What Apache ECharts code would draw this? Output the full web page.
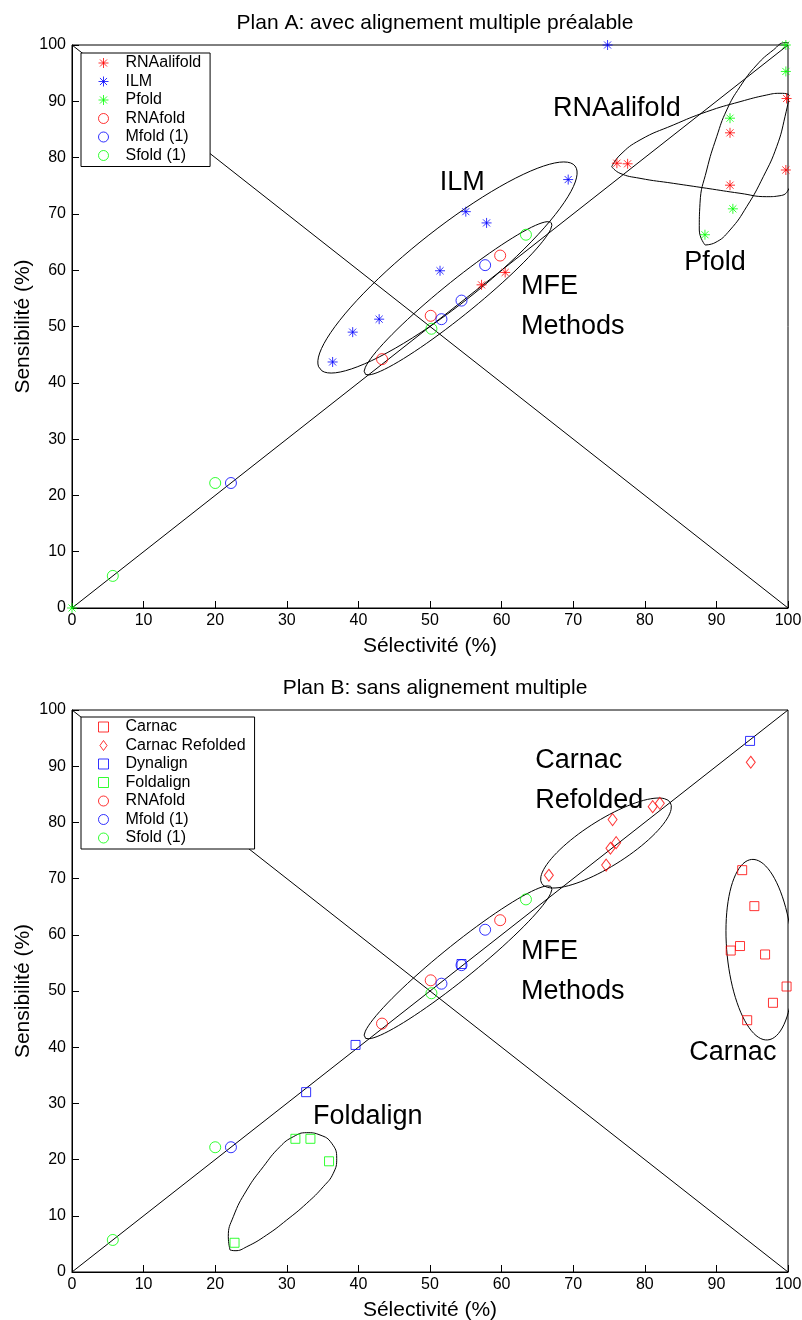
<!DOCTYPE html>
<html>
<head>
<meta charset="utf-8">
<script src="https://cdn.jsdelivr.net/npm/echarts@6/dist/echarts.min.js"></script>
<style>
  html, body { margin: 0; padding: 0; background: #fff; }
  #chart { width: 802px; height: 1320px; }
</style>
</head>
<body>
<div id="chart"></div>
<script>
// Plan A: avec alignement multiple préalable  [sélectivité, sensibilité]
var rnaalifoldA = [[76.1, 79.0], [77.6, 78.9], [91.9, 84.4], [91.9, 75.1], [99.8, 90.5], [99.7, 77.8], [57.2, 57.4], [60.5, 59.6]];
var ilmA = [[36.4, 43.7], [39.2, 49.0], [42.9, 51.3], [51.4, 59.9], [55.0, 70.4], [57.9, 68.4], [69.3, 76.1], [74.8, 100]];
var pfoldA = [[99.7, 100], [99.7, 95.3], [91.9, 87.0], [92.3, 70.9], [88.4, 66.3], [0, 0]];

// Plan B: sans alignement multiple
var carnacB = [[93.6, 71.5], [95.3, 65.1], [92.0, 57.2], [93.3, 58.0], [96.8, 56.5], [99.8, 50.8], [97.9, 47.9], [94.3, 44.8]];
var carnacRefoldedB = [[94.8, 90.7], [66.6, 70.6], [74.6, 72.4], [75.2, 75.4], [76.0, 76.4], [75.5, 80.5], [81.1, 82.8], [82.1, 83.4]];
var dynalignB = [[94.7, 94.5], [54.4, 54.8], [39.6, 40.4], [32.7, 32.0]];
var foldalignB = [[31.2, 23.7], [33.3, 23.7], [35.9, 19.7], [22.7, 5.2]];

// methodes MFE (memes valeurs dans les deux plans)
var rnafold = [[59.8, 62.6], [50.1, 51.9], [43.3, 44.2]];
var mfold = [[57.7, 60.9], [54.4, 54.6], [51.6, 51.3], [22.2, 22.2]];
var sfold = [[63.4, 66.3], [50.2, 49.6], [20.0, 22.2], [5.7, 5.7]];

var ticks = [0, 10, 20, 30, 40, 50, 60, 70, 80, 90, 100];

// contours dessines a la main (ellipses: centre, demi-axe 1, demi-axe 2)
var ellILM_A = [52.44, 60.48, 17.82, 18.03, 3.22, -5.14];
var ellMFE_A = [53.91, 55.01, 13.03, 13.41, 1.49, -2.35];
var ellMFE_B = [53.91, 55.1, 13.03, 13.41, 1.49, -2.35];
var ellCarnacRef_B = [74.58, 76.33, 8.97, 7.22, 1.71, -3.46];
var ellCarnac_B = [96.05, 57.35, -1.12, 16.06, 4.58, 0.52];
var outlineAlifold = [[75.38, 78.38], [76.54, 77.21], [79.33, 76.32], [83.98, 75.43], [88.65, 74.55], [93.3, 73.66], [97.03, 73.06], [98.88, 73.23], [100.04, 74.25], [100.98, 77.8], [101.44, 82.54], [101.3, 87.26], [100.84, 89.93], [100.04, 91.24], [98.88, 91.42], [97.03, 91.12], [93.3, 89.93], [88.65, 88.15], [83.98, 85.79], [79.33, 83.13], [76.54, 80.46], [75.38, 78.38]];
var outlinePfold = [[88.41, 64.48], [87.61, 67.14], [87.71, 71.88], [88.65, 77.8], [90.04, 83.71], [91.44, 88.45], [93.3, 92.59], [95.63, 96.45], [97.95, 99.11], [99.58, 100.41], [100.52, 100], [100.74, 97.34], [100.38, 92.59], [99.58, 87.26], [98.42, 81.94], [96.55, 76.61], [94.23, 71.28], [91.9, 67.14], [89.8, 64.88], [88.41, 64.48]];
var outlineFoldalign = [[22.07, 3.91], [21.83, 6.28], [22.53, 9.84], [24.41, 14.59], [26.72, 18.74], [29.05, 22.3], [30.91, 24.07], [32.78, 24.79], [34.64, 24.38], [36.27, 22.9], [36.97, 20.23], [36.49, 17.56], [35.1, 15.18], [32.78, 12.22], [29.99, 9.25], [27.19, 6.58], [24.41, 4.5], [22.77, 3.79], [22.07, 3.91]];

var labelsA = [
  { name: 'ILM', value: [54.5, 75.5], align: 'center' },
  { name: 'RNAalifold', value: [76.1, 88.8], align: 'center' },
  { name: 'Pfold', value: [89.8, 61.3], align: 'center' },
  { name: 'MFE\nMethods', value: [62.7, 53.5], align: 'left' }
];
var labelsB = [
  { name: 'Carnac\nRefolded', value: [64.7, 87.5], align: 'left' },
  { name: 'MFE\nMethods', value: [62.7, 53.4], align: 'left' },
  { name: 'Carnac', value: [92.3, 39.1], align: 'center' },
  { name: 'Foldalign', value: [41.3, 27.6], align: 'center' }
];

var FONT = 'Liberation Sans, Arial, Helvetica, sans-serif';
var STAR = 'path://M5,0L5,10M0,5L10,5M1.46,1.46L8.54,8.54M8.54,1.46L1.46,8.54';
var SQUARE = 'path://M0,0L10,0L10,10L0,10Z';
var DIAMOND = 'path://M5,0L10,7L5,14L0,7Z';
var RED = '#ff0000', BLUE = '#0000ff', GREEN = '#00ff00';

function ellipse(e) {
  var out = [];
  for (var i = 0; i <= 90; i++) {
    var t = 2 * Math.PI * i / 90;
    out.push([e[0] + e[2] * Math.cos(t) + e[4] * Math.sin(t), e[1] + e[3] * Math.cos(t) + e[5] * Math.sin(t)]);
  }
  return out;
}

function outline(data, ax, smooth) {
  return {
    type: 'line', data: data, xAxisIndex: ax, yAxisIndex: ax,
    symbol: 'none', smooth: smooth, clip: false, silent: true, z: 2,
    lineStyle: { color: '#000', width: 1 }
  };
}

function points(name, data, symbol, size, color, ax) {
  return {
    type: 'scatter', name: name, data: data, xAxisIndex: ax, yAxisIndex: ax,
    symbol: symbol, symbolSize: size, clip: false, z: 5,
    itemStyle: { color: 'transparent', borderColor: color, borderWidth: 1 },
    emphasis: { disabled: true }
  };
}

function legendItem(name, icon, color) {
  return { name: name, icon: icon, itemStyle: { color: 'transparent', borderColor: color, borderWidth: 1 } };
}

function labels(data, ax) {
  return {
    type: 'scatter', data: data.map(function (d) {
      return { name: d.name, value: d.value, label: { align: d.align } };
    }),
    xAxisIndex: ax, yAxisIndex: ax, symbolSize: 0, silent: true, clip: false, z: 6,
    label: {
      show: true, position: 'inside', formatter: '{b}', color: '#000',
      textBorderWidth: 0, opacity: 1,
      fontSize: 27, fontFamily: FONT, lineHeight: 40
    }
  };
}

function xAxis(idx) {
  return {
    type: 'value', gridIndex: idx, min: 0, max: 100, interval: 10,
    name: 'Sélectivité (%)', nameLocation: 'middle', nameGap: 28, nameMoveOverlap: false,
    nameTextStyle: { color: '#000', fontSize: 21, fontFamily: FONT },
    axisLine: { lineStyle: { color: '#000', width: 1 } },
    axisTick: { inside: true, length: 7, lineStyle: { color: '#000' } },
    axisLabel: { color: '#000', fontSize: 16, fontFamily: FONT, margin: 5, formatter: function (v) { return ticks.indexOf(v) >= 0 ? String(v) : ''; } },
    splitLine: { show: false }
  };
}

function yAxis(idx) {
  return {
    type: 'value', gridIndex: idx, min: 0, max: 100, interval: 10,
    name: 'Sensibilité (%)', nameLocation: 'middle', nameGap: 38, nameMoveOverlap: false,
    nameTextStyle: { color: '#000', fontSize: 21, fontFamily: FONT },
    axisLine: { lineStyle: { color: '#000', width: 1 } },
    axisTick: { inside: true, length: 7, lineStyle: { color: '#000' } },
    axisLabel: { color: '#000', fontSize: 16, fontFamily: FONT, margin: 6 },
    splitLine: { show: false }
  };
}

function legend(top, items) {
  return {
    orient: 'vertical', left: 81, top: top, data: items,
    itemWidth: 34, itemHeight: 10, itemGap: 2.5,
    padding: [2, 9, 3, 17],
    backgroundColor: '#fff', borderColor: '#000', borderWidth: 1, borderRadius: 0,
    textStyle: { color: '#000', fontSize: 16, fontFamily: FONT },
    selectedMode: false
  };
}

var chart = echarts.init(document.getElementById('chart'));
chart.setOption({
  animation: false,
  backgroundColor: '#fff',
  title: [
    { text: 'Plan A: avec alignement multiple préalable', left: 430, top: 8, textAlign: 'center',
      textStyle: { color: '#000', fontSize: 21, fontWeight: 'normal', fontFamily: FONT } },
    { text: 'Plan B: sans alignement multiple', left: 430, top: 673, textAlign: 'center',
      textStyle: { color: '#000', fontSize: 21, fontWeight: 'normal', fontFamily: FONT } }
  ],
  grid: [
    { left: 72, top: 45, width: 716, height: 563, show: true, borderColor: '#000', borderWidth: 1, backgroundColor: 'transparent', outerBoundsMode: 'none', containLabel: false },
    { left: 72, top: 710, width: 716, height: 562, show: true, borderColor: '#000', borderWidth: 1, backgroundColor: 'transparent', outerBoundsMode: 'none', containLabel: false }
  ],
  xAxis: [xAxis(0), xAxis(1)],
  yAxis: [yAxis(0), yAxis(1)],
  legend: [
    legend(53, [
      legendItem('RNAalifold', STAR, RED), legendItem('ILM', STAR, BLUE), legendItem('Pfold', STAR, GREEN),
      legendItem('RNAfold', 'circle', RED), legendItem('Mfold (1)', 'circle', BLUE), legendItem('Sfold (1)', 'circle', GREEN)
    ]),
    legend(717, [
      legendItem('Carnac', SQUARE, RED), legendItem('Carnac Refolded', DIAMOND, RED), legendItem('Dynalign', SQUARE, BLUE),
      legendItem('Foldalign', SQUARE, GREEN), legendItem('RNAfold', 'circle', RED), legendItem('Mfold (1)', 'circle', BLUE),
      legendItem('Sfold (1)', 'circle', GREEN)
    ])
  ],
  series: [
    outline([[0, 0], [100, 100]], 0, false),
    outline([[0, 100], [100, 0]], 0, false),
    outline(ellipse(ellILM_A), 0, false),
    outline(ellipse(ellMFE_A), 0, false),
    outline(outlineAlifold, 0, true),
    outline(outlinePfold, 0, true),
    points('RNAalifold', rnaalifoldA, STAR, 10, RED, 0),
    points('ILM', ilmA, STAR, 10, BLUE, 0),
    points('Pfold', pfoldA, STAR, 10, GREEN, 0),
    points('RNAfold', rnafold, 'circle', 11, RED, 0),
    points('Mfold (1)', mfold, 'circle', 11, BLUE, 0),
    points('Sfold (1)', sfold, 'circle', 11, GREEN, 0),
    labels(labelsA, 0),

    outline([[0, 0], [100, 100]], 1, false),
    outline([[0, 100], [100, 0]], 1, false),
    outline(ellipse(ellMFE_B), 1, false),
    outline(ellipse(ellCarnacRef_B), 1, false),
    outline(ellipse(ellCarnac_B), 1, false),
    outline(outlineFoldalign, 1, true),
    points('Carnac', carnacB, SQUARE, 9, RED, 1),
    points('Carnac Refolded', carnacRefoldedB, DIAMOND, [9, 12], RED, 1),
    points('Dynalign', dynalignB, SQUARE, 9, BLUE, 1),
    points('Foldalign', foldalignB, SQUARE, 9, GREEN, 1),
    points('RNAfold', rnafold, 'circle', 11, RED, 1),
    points('Mfold (1)', mfold, 'circle', 11, BLUE, 1),
    points('Sfold (1)', sfold, 'circle', 11, GREEN, 1),
    labels(labelsB, 1)
  ]
});
</script>
</body>
</html>
